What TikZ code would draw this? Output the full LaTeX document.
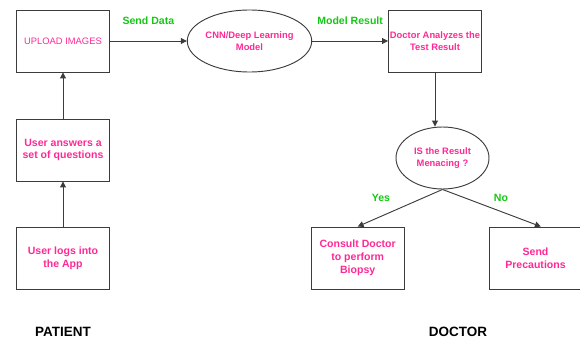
\documentclass[tikz,border=0pt]{standalone}
\usepackage{fontspec}
\setmainfont{Liberation Sans}
\usetikzlibrary{arrows.meta,positioning,shapes.geometric}
\usepackage{xcolor}
\definecolor{stepink}{RGB}{255,40,150}
\definecolor{flowgreen}{RGB}{20,200,20}
\definecolor{linegray}{RGB}{60,60,60}
\tikzset{
  stepbox/.style = {draw=linegray,line width=0.8pt,minimum width=2.79cm,
                    minimum height=1.86cm,align=center,text=stepink,
                    font=\fontsize{9}{11}\selectfont\bfseries,inner sep=1pt},
  modelell/.style= {ellipse,draw=linegray,line width=0.8pt,minimum width=2.79cm,
                    minimum height=1.86cm,align=center,text=stepink,
                    font=\fontsize{8}{10}\selectfont\bfseries,inner sep=0pt},
  flowarrow/.style= {-{Triangle[width=5pt,length=5pt]},line width=0.8pt,draw=linegray},
  flowlabel/.style= {text=flowgreen,font=\fontsize{9}{11}\selectfont\bfseries},
  sidelabel/.style= {font=\fontsize{11.5}{13}\selectfont\bfseries},
}
\begin{document}
\begin{tikzpicture}[x=0.03cm,y=-0.03cm]
  \useasboundingbox (0,0) rectangle (580,339);
  % patient side
  \node[stepbox,font=\fontsize{8}{10}\selectfont] (upload) at (63,41) {UPLOAD IMAGES};
  \node[stepbox] (answers) at (63,150) {User answers a\\set of questions};
  \node[stepbox] (login) at (63,258) {User logs into\\the App};
  \node[sidelabel] (patient) at (63,332) {PATIENT};
  % model and doctor side
  \node[modelell] (cnn) at (249.5,41) {CNN/Deep Learning\\Model};
  \node[stepbox,font=\fontsize{8}{10}\selectfont\bfseries] (analyze) at (435,41) {Doctor Analyzes the\\Test Result};
  \node[modelell] (menace) at (442.5,158) {IS the Result\\Menacing ?};
  \node[stepbox] (biopsy) at (357.7,258) {Consult Doctor\\to perform\\Biopsy};
  \node[stepbox] (precaution) at (535.5,258) {Send\\Precautions};
  \node[sidelabel] (doctor) at (458,332) {DOCTOR};
  % connectors
  \draw[flowarrow] (login) -- (answers);
  \draw[flowarrow] (answers) -- (upload);
  \draw[flowarrow] (upload) -- node[flowlabel,above=10pt] {Send Data} (cnn);
  \draw[flowarrow] (cnn) -- node[flowlabel,above=10pt] {Model Result} (analyze);
  \draw[flowarrow] (analyze) -- (analyze.south |- menace.north);
  \draw[flowarrow] (menace.south) -- (biopsy.north);
  \draw[flowarrow] (menace.south) -- ([xshift=4.5pt]precaution.north);
  \node[flowlabel] (yes) at (381,198) {Yes};
  \node[flowlabel] (no) at (501,198) {No};
\end{tikzpicture}
\end{document}
